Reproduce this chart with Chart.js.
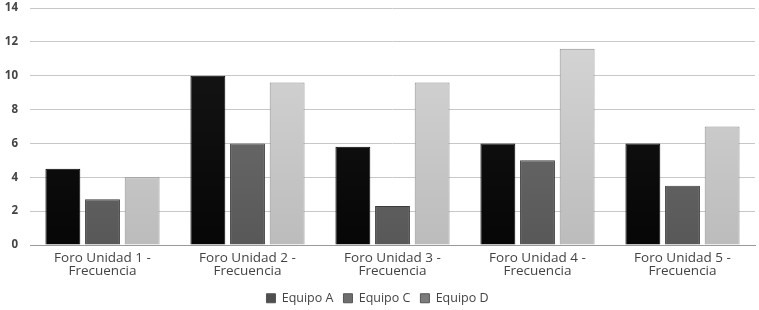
<!DOCTYPE html>
<html>
<head>
<meta charset="utf-8">
<script src="https://cdn.jsdelivr.net/npm/chart.js@4.4.0/dist/chart.umd.min.js"></script>
<style>
  html, body { margin: 0; padding: 0; background: #ffffff; }
  #wrap { width: 759px; height: 310px; position: relative; }
</style>
</head>
<body>
<div id="wrap"><canvas id="chart_frecuencia"></canvas></div>
<script>
// data
var categories = [
    ['Foro Unidad 1 -', 'Frecuencia'],
    ['Foro Unidad 2 -', 'Frecuencia'],
    ['Foro Unidad 3 -', 'Frecuencia'],
    ['Foro Unidad 4 -', 'Frecuencia'],
    ['Foro Unidad 5 -', 'Frecuencia']
];
var equipoA = [4.5, 10, 5.8, 6, 6];
var equipoC = [2.7, 6, 2.3, 5, 3.5];
var equipoD = [4, 9.6, 9.6, 11.6, 7];
var yTicks = [0, 2, 4, 6, 8, 10, 12, 14];

function barGradient(top, bottom) {
    return function(context) {
        var area = context.chart.chartArea;
        if (!area) return bottom;
        var g = context.chart.ctx.createLinearGradient(0, area.top, 0, area.bottom);
        g.addColorStop(0, top);
        g.addColorStop(1, bottom);
        return g;
    };
}

var legendSwatch = ['#4f4f4f', '#6e6e6e', '#7c7c7c'];

var chart_frecuencia = new Chart(document.getElementById('chart_frecuencia'), {
    type: 'bar',
    data: {
        labels: categories,
        datasets: [
            {
                label: 'Equipo A',
                data: equipoA,
                backgroundColor: barGradient('#181818', '#060606'),
                borderColor: '#000000',
                borderWidth: 1
            },
            {
                label: 'Equipo C',
                data: equipoC,
                backgroundColor: barGradient('#767676', '#585858'),
                borderColor: '#3c3c3c',
                borderWidth: 1
            },
            {
                label: 'Equipo D',
                data: equipoD,
                backgroundColor: barGradient('#d8d8d8', '#bcbcbc'),
                borderColor: '#8e8e8e',
                borderWidth: 1
            }
        ]
    },
    options: {
        animation: false,
        responsive: true,
        maintainAspectRatio: false,
        layout: {
            padding: { top: 8, right: 4, left: 0, bottom: 0 }
        },
        categoryPercentage: 0.82,
        barPercentage: 0.88,
        plugins: {
            tooltip: { enabled: false },
            legend: {
                position: 'bottom',
                maxHeight: 28,
                labels: {
                    boxWidth: 9,
                    boxHeight: 9,
                    padding: 10,
                    color: '#444444',
                    font: { family: 'Open Sans', size: 12.5 },
                    generateLabels: function(chart) {
                        return chart.data.datasets.map(function(ds, i) {
                            return {
                                text: ds.label,
                                fillStyle: legendSwatch[i],
                                strokeStyle: '#555555',
                                lineWidth: 1,
                                fontColor: '#444444',
                                datasetIndex: i,
                                hidden: false
                            };
                        });
                    }
                }
            }
        },
        scales: {
            x: {
                afterFit: function(axis) {
                    axis.height = 37;
                },
                grid: { display: false, drawTicks: false },
                border: { color: '#9a9a9a' },
                ticks: {
                    color: '#444444',
                    padding: 6,
                    maxRotation: 0,
                    autoSkip: false,
                    font: { family: 'Open Sans', size: 13.5, lineHeight: 1.0 }
                }
            },
            y: {
                min: 0,
                max: 14,
                afterBuildTicks: function(axis) {
                    axis.ticks = yTicks.map(function(v) { return { value: v }; });
                },
                afterFit: function(axis) {
                    axis.width = 30;
                    axis.paddingTop = 0;
                    axis.paddingBottom = 0;
                },
                grid: { color: '#c8c8c8', drawTicks: false },
                border: { display: false },
                ticks: {
                    color: '#444444',
                    padding: 12,
                    font: { family: 'Open Sans', size: 11.5, weight: 'bold' }
                }
            }
        }
    }
});
</script>
</body>
</html>
